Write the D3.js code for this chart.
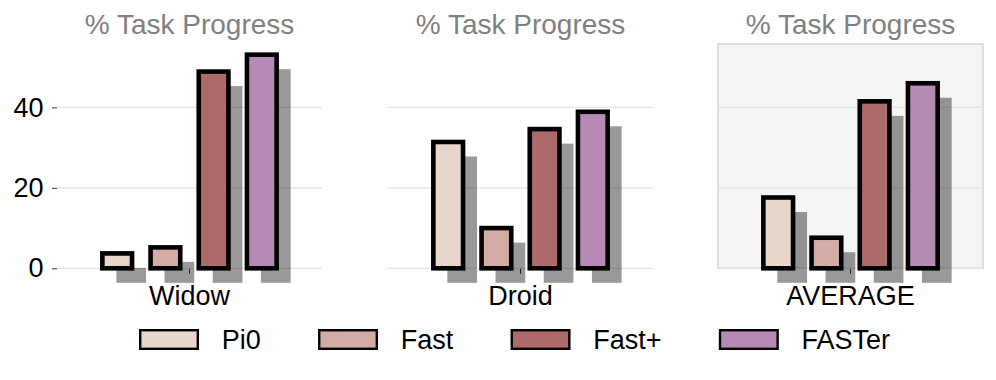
<!DOCTYPE html>
<html>
<head>
<meta charset="utf-8">
<script src="https://cdn.jsdelivr.net/npm/d3@7"></script>
<style>
  body { margin: 0; background: #fff; }
  svg { display: block; font-family: "Liberation Sans", Helvetica, Arial, sans-serif; }
</style>
</head>
<body>
<script>
// data
const categories = ["Widow", "Droid", "AVERAGE"];
const series = ["Pi0", "Fast", "Fast+", "FASTer"];
const pi0Vals = [3.7, 31.4, 17.6];
const fastVals = [5.2, 10.0, 7.6];
const fastPlusVals = [48.9, 34.6, 41.5];
const fasterVals = [53.1, 38.9, 46.0];
const yTicks = [0, 20, 40];
const panelTitle = "% Task Progress";

const colors = ["#e8d6cd", "#d3aca6", "#ad6a6b", "#b78ab6"];
const values = [pi0Vals, fastVals, fastPlusVals, fasterVals];

const width = 996, height = 380;
const panelLeft = [57, 388, 718];
const panelW = 265;
const plotTop = 44, zeroY = 268.3;
const shadowDx = 14, shadowDy = 14.5;

const svg = d3.select("body").append("svg")
  .attr("width", width)
  .attr("height", height);

const y = d3.scaleLinear()
  .domain([0, d3.max(values.flat()) * 1.05])
  .range([zeroY, plotTop]);

categories.forEach(function(cat, ci) {
  const g = svg.append("g").attr("transform", "translate(" + panelLeft[ci] + ",0)");

  const x0 = d3.scaleBand().domain([cat]).range([0, panelW]);
  const cx = x0(cat) + x0.bandwidth() / 2;
  const x1 = d3.scaleBand()
    .domain(series)
    .range([cx - 96.4, cx + 96.4])
    .paddingInner(0.384)
    .paddingOuter(0.192);

  // the AVERAGE panel is boxed and shaded
  if (cat === "AVERAGE") {
    g.append("rect")
      .attr("x", 0).attr("y", plotTop)
      .attr("width", panelW).attr("height", zeroY - plotTop)
      .attr("fill", "#f5f5f5")
      .attr("stroke", "#d4d4d4")
      .attr("stroke-width", 1.5);
  }

  // gridlines
  g.selectAll(".grid")
    .data(yTicks)
    .enter().append("line")
    .attr("x1", 0).attr("x2", panelW)
    .attr("y1", d => y(d)).attr("y2", d => y(d))
    .attr("stroke", "#e4e4e4")
    .attr("stroke-width", 1.2);

  const rows = series.map((s, si) => ({ s: s, v: values[si][ci], c: colors[si] }));

  // drop shadows
  g.selectAll(".shadow")
    .data(rows)
    .enter().append("rect")
    .attr("x", d => x1(d.s) + shadowDx)
    .attr("y", d => y(d.v) + shadowDy)
    .attr("width", x1.bandwidth())
    .attr("height", d => zeroY - y(d.v))
    .attr("fill", "#000")
    .attr("fill-opacity", 0.4);

  // x tick + label
  const xAxis = g.append("g")
    .attr("transform", "translate(0," + (zeroY + 0.5) + ")")
    .call(d3.axisBottom(x0).tickSize(5).tickPadding(12.5));
  xAxis.select(".domain").remove();
  xAxis.selectAll("line").attr("stroke", "#222");
  xAxis.selectAll("text")
    .attr("font-size", 27)
    .attr("font-family", "Liberation Sans, Helvetica, Arial, sans-serif")
    .attr("fill", "#000");

  // bars
  g.selectAll(".bar")
    .data(rows)
    .enter().append("rect")
    .attr("x", d => x1(d.s))
    .attr("y", d => y(d.v))
    .attr("width", x1.bandwidth())
    .attr("height", d => zeroY - y(d.v))
    .attr("fill", d => d.c)
    .attr("stroke", "#000")
    .attr("stroke-width", 4.6);

  // y axis only on the first panel
  if (ci === 0) {
    const yAxis = g.append("g")
      .call(d3.axisLeft(y).tickValues(yTicks).tickSize(5).tickPadding(8.5));
    yAxis.select(".domain").remove();
    yAxis.selectAll("line").attr("stroke", "#333");
    yAxis.selectAll("text")
      .attr("font-size", 27)
      .attr("font-family", "Liberation Sans, Helvetica, Arial, sans-serif")
      .attr("fill", "#000");
  }

  g.append("text")
    .attr("x", cx)
    .attr("y", 34)
    .attr("text-anchor", "middle")
    .attr("font-size", 28)
    .attr("fill", "#808080")
    .text(panelTitle);
});

// legend
const legend = svg.append("g").attr("class", "legend");
let lx = 139;
series.forEach(function(s, si) {
  legend.append("rect")
    .attr("x", lx + 1.2).attr("y", 330.2)
    .attr("width", 57.6).attr("height", 18.6)
    .attr("fill", colors[si])
    .attr("stroke", "#000")
    .attr("stroke-width", 2.4);
  const t = legend.append("text")
    .attr("x", lx + 82.7)
    .attr("y", 349.3)
    .attr("font-size", 27)
    .attr("fill", "#000")
    .text(s);
  lx = lx + 82.7 + t.node().getComputedTextLength() + 57.3;
});
</script>
</body>
</html>
